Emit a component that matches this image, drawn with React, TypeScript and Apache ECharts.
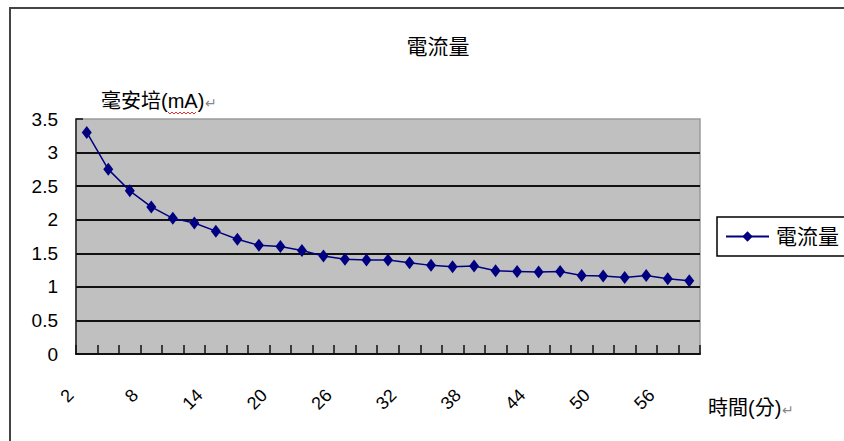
import React, { useEffect, useRef } from "react";
import * as echarts from "echarts";

// Measurement time (minutes) and current (mA)
const minutes = [
  "2", "4", "6", "8", "10", "12", "14", "16", "18", "20",
  "22", "24", "26", "28", "30", "32", "34", "36", "38", "40",
  "42", "44", "46", "48", "50", "52", "54", "56", "58",
];
const currentMA = [
  3.3, 2.75, 2.43, 2.19, 2.02, 1.95, 1.83, 1.71, 1.62, 1.6,
  1.54, 1.46, 1.41, 1.4, 1.4, 1.36, 1.32, 1.3, 1.31, 1.24,
  1.23, 1.22, 1.23, 1.17, 1.16, 1.14, 1.17, 1.12, 1.09,
];
const seriesName = "電流量";
const chartTitle = "電流量";
const yAxisName = "毫安培(mA)";
const xAxisName = "時間(分)";

const FONT = "'Liberation Sans', 'Noto Sans CJK TC', sans-serif";

// gray paragraph mark appended to the axis names
const markRich = { r: { fontFamily: FONT, fontSize: 14, color: "#888", padding: [4, 0, 0, 1] } };

export default function App() {
  const ref = useRef<HTMLDivElement>(null);

  useEffect(() => {
    if (!ref.current) return;
    const chart = echarts.init(ref.current, null, { renderer: "svg" });

    // gridlines: black at 0.5..3, none drawn at the top (3.5)
    const splitColors = ["#111", "#111", "#111", "#111", "#111", "#111", "#111", "rgba(0,0,0,0)"];

    chart.setOption({
      animation: false,
      backgroundColor: "#ffffff",
      textStyle: { fontFamily: FONT, color: "#000" },
      title: {
        text: chartTitle,
        left: 433,
        top: 31,
        textAlign: "center",
        textStyle: { fontFamily: FONT, fontSize: 21, fontWeight: "normal", color: "#000" },
      },
      grid: {
        left: 76,
        top: 119,
        right: 144,
        bottom: 87,
        show: true,
        backgroundColor: "#c0c0c0",
        borderColor: "#9a9a9a",
        borderWidth: 1.5,
      },
      legend: {
        data: [seriesName],
        left: 717,
        top: 217,
        orient: "vertical",
        padding: [9, 40, 9, 8],
        borderColor: "#000",
        borderWidth: 1.5,
        itemWidth: 43,
        itemHeight: 13,
        itemGap: 0,
        textStyle: { fontFamily: FONT, fontSize: 21, color: "#000", padding: [0, 0, 0, 2] },
      },
      xAxis: {
        type: "category",
        data: minutes,
        boundaryGap: true,
        name: `${xAxisName}{r|↵}`,
        nameLocation: "end",
        nameGap: 8,
        nameTextStyle: {
          fontFamily: FONT,
          fontSize: 20,
          color: "#000",
          align: "left",
          verticalAlign: "top",
          padding: [44, 0, 0, 0],
          rich: markRich,
        },
        axisLine: { show: true, lineStyle: { color: "#111", width: 2 } },
        axisTick: {
          show: true,
          inside: true,
          length: 9,
          interval: 0,
          lineStyle: { color: "#111", width: 1.5 },
        },
        axisLabel: {
          show: true,
          interval: 2,
          rotate: 45,
          margin: 22,
          padding: [0, 23, 0, 0],
          fontFamily: FONT,
          fontSize: 18,
          color: "#000",
        },
        splitLine: { show: false },
      },
      yAxis: {
        type: "value",
        min: 0,
        max: 3.5,
        interval: 0.5,
        name: `${yAxisName}{r|↵}`,
        nameLocation: "end",
        nameGap: 18,
        nameTextStyle: {
          fontFamily: FONT,
          fontSize: 20,
          color: "#000",
          align: "left",
          verticalAlign: "middle",
          padding: [0, 0, 0, 25],
          rich: markRich,
        },
        axisLine: { show: true, lineStyle: { color: "#222", width: 1.5 } },
        axisTick: { show: true, inside: true, length: 7, lineStyle: { color: "#111", width: 1.5 } },
        axisLabel: {
          margin: 18,
          fontFamily: FONT,
          fontSize: 19,
          color: "#000",
          formatter: (v: number) => String(v),
        },
        splitLine: { show: true, lineStyle: { color: splitColors, width: 1.8 } },
      },
      series: [
        {
          name: seriesName,
          type: "line",
          data: currentMA,
          symbol: "diamond",
          symbolSize: [10, 13],
          itemStyle: { color: "#000080" },
          lineStyle: { color: "#000080", width: 1.5 },
        },
      ],
      graphic: [
        // outer chart frame
        {
          type: "rect",
          shape: { x: 10, y: 8, width: 900, height: 500 },
          style: { fill: "none", stroke: "#444", lineWidth: 2 },
          silent: true,
        },
        // wavy underline below "mA"
        {
          type: "polyline",
          shape: {
            points: [
              [168, 112], [170, 114], [172, 112], [174, 114], [176, 112], [178, 114],
              [180, 112], [182, 114], [184, 112], [186, 114], [188, 112], [190, 114],
              [192, 112], [194, 114], [196, 112],
            ],
          },
          style: { stroke: "#e03030", lineWidth: 1, fill: "none" },
          silent: true,
        },
      ],
    });

    return () => chart.dispose();
  }, []);

  return (
    <div
      ref={ref}
      style={{ position: "fixed", left: 0, top: 0, width: 844, height: 441 }}
    />
  );
}
